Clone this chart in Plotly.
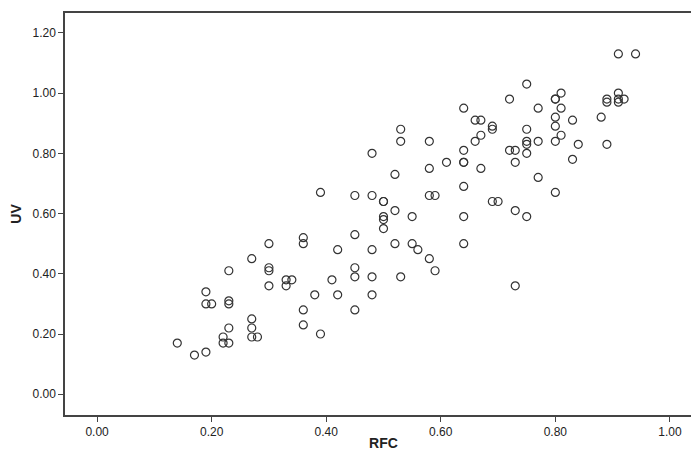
import plotly.graph_objects as go

# RFC vs UV values
rfc = [0.14, 0.17, 0.19, 0.19, 0.19, 0.20, 0.23, 0.23, 0.23, 0.23, 0.22, 0.22, 0.23,
       0.27, 0.27, 0.27, 0.27, 0.28,
       0.30, 0.30, 0.30, 0.30,
       0.33, 0.34, 0.33,
       0.36, 0.36, 0.36, 0.36,
       0.38, 0.39, 0.39,
       0.41, 0.42, 0.42,
       0.45, 0.45, 0.45, 0.45, 0.45,
       0.48, 0.48, 0.48, 0.48, 0.48,
       0.50, 0.50, 0.50, 0.50, 0.50,
       0.52, 0.52, 0.52,
       0.53, 0.53, 0.53,
       0.55, 0.55, 0.56,
       0.58, 0.58, 0.58, 0.59, 0.58, 0.59,
       0.61,
       0.64, 0.64, 0.64, 0.64, 0.64, 0.64, 0.64,
       0.66, 0.67, 0.66, 0.67, 0.67,
       0.69, 0.69, 0.69, 0.70,
       0.72, 0.72, 0.73, 0.73, 0.73, 0.73,
       0.75, 0.75, 0.75, 0.75, 0.75, 0.75,
       0.77, 0.77, 0.77,
       0.80, 0.80, 0.80, 0.80, 0.80, 0.80,
       0.81, 0.81, 0.81,
       0.83, 0.83, 0.84,
       0.88, 0.89, 0.89, 0.89,
       0.91, 0.91, 0.91, 0.91, 0.92,
       0.94]
uv = [0.17, 0.13, 0.14, 0.34, 0.30, 0.30, 0.41, 0.31, 0.30, 0.22, 0.19, 0.17, 0.17,
      0.45, 0.25, 0.22, 0.19, 0.19,
      0.50, 0.42, 0.41, 0.36,
      0.38, 0.38, 0.36,
      0.52, 0.50, 0.28, 0.23,
      0.33, 0.20, 0.67,
      0.38, 0.48, 0.33,
      0.66, 0.53, 0.42, 0.39, 0.28,
      0.80, 0.66, 0.48, 0.39, 0.33,
      0.64, 0.64, 0.59, 0.58, 0.55,
      0.73, 0.61, 0.50,
      0.88, 0.84, 0.39,
      0.59, 0.50, 0.48,
      0.84, 0.75, 0.66, 0.66, 0.45, 0.41,
      0.77,
      0.95, 0.81, 0.77, 0.77, 0.69, 0.59, 0.50,
      0.91, 0.91, 0.84, 0.86, 0.75,
      0.89, 0.88, 0.64, 0.64,
      0.98, 0.81, 0.81, 0.77, 0.61, 0.36,
      1.03, 0.88, 0.84, 0.83, 0.80, 0.59,
      0.95, 0.84, 0.72,
      0.98, 0.98, 0.92, 0.89, 0.84, 0.67,
      1.00, 0.95, 0.86,
      0.91, 0.78, 0.83,
      0.92, 0.98, 0.97, 0.83,
      1.13, 1.00, 0.98, 0.97, 0.98,
      1.13]

tick_vals = [0.0, 0.2, 0.4, 0.6, 0.8, 1.0, 1.2]

fig = go.Figure(go.Scatter(
    x=rfc, y=uv, mode='markers',
    marker=dict(symbol='circle-open', size=8, color='#333333',
                line=dict(width=1.2, color='#333333')),
))

axis_style = dict(
    showline=True, linecolor='#444444', linewidth=1.5, mirror=True,
    ticks='outside', ticklen=5, tickwidth=1.2, tickcolor='#444444',
    showgrid=False, zeroline=False, tickformat='.2f',
    tickfont=dict(family='Liberation Sans, Arial', size=12, color='#222222'),
)

fig.update_xaxes(range=[-0.056, 1.056], tickvals=tick_vals[:6],
                 title=dict(text='<b>RFC</b>', standoff=0,
                            font=dict(family='Liberation Sans, Arial', size=14, color='#222222')),
                 **axis_style)
fig.update_yaxes(range=[-0.069, 1.266], tickvals=tick_vals,
                 title=dict(text='<b>UV</b>', standoff=8,
                            font=dict(family='Liberation Sans, Arial', size=14, color='#222222')),
                 **axis_style)

fig.update_layout(
    width=699, height=452,
    margin=dict(l=57, r=4, t=3, b=45),
    plot_bgcolor='white', paper_bgcolor='white',
    showlegend=False,
)

fig.write_html('out.html')
